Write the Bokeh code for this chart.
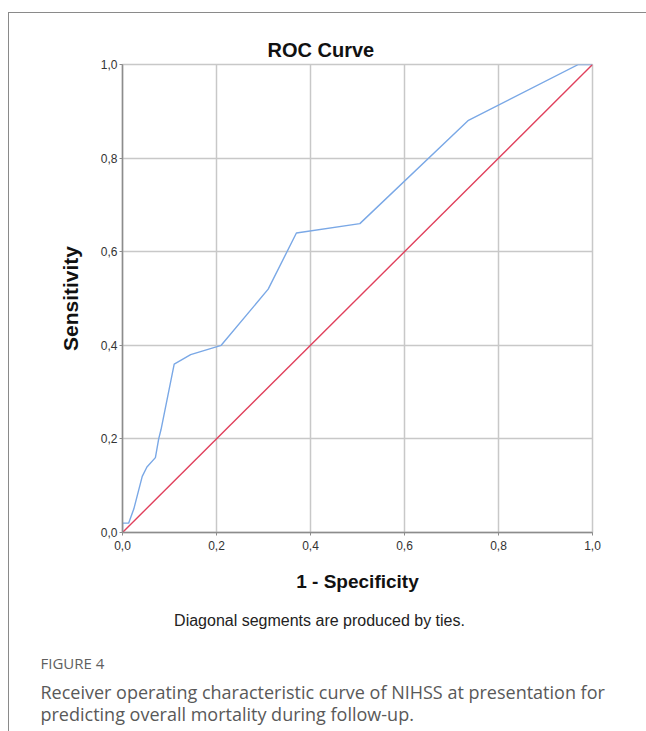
from bokeh.plotting import figure
from bokeh.models import Range1d, FixedTicker, Label, Title
from bokeh.layouts import column
from bokeh.embed import file_html
from bokeh.resources import INLINE

# ---- data ----
fpr = [0.0, 0.0, 0.013, 0.024, 0.042, 0.052, 0.070, 0.077, 0.082, 0.110,
       0.145, 0.210, 0.310, 0.370, 0.505, 0.735, 0.970, 1.0]
tpr = [0.0, 0.02, 0.02, 0.05, 0.12, 0.14, 0.16, 0.20, 0.22, 0.36,
       0.38, 0.40, 0.52, 0.64, 0.66, 0.88, 1.0, 1.0]
ref_x = [0.0, 1.0]
ref_y = [0.0, 1.0]
tick_vals = [0.0, 0.2, 0.4, 0.6, 0.8, 1.0]
tick_labels = ["0,0", "0,2", "0,4", "0,6", "0,8", "1,0"]

title_text = "ROC Curve"
x_label = "1 - Specificity"
y_label = "Sensitivity"
footnote = "Diagonal segments are produced by ties."
fig_label = "FIGURE 4"
caption_lines = ["Receiver operating characteristic curve of NIHSS at presentation for",
                 "predicting overall mortality during follow-up."]

FONT = "Liberation Sans"

# layout geometry (canvas pixels)
W = 637
H_MAIN, H_CAP = 587, 131
FL, FR, FT, FB = 113, 583, 51, 519      # frame edges on the main canvas

p = figure(width=W, height=H_MAIN, x_range=Range1d(0, 1), y_range=Range1d(0, 1),
           output_backend="svg", toolbar_location=None,
           min_border_left=FL, min_border_right=W - FR,
           min_border_top=FT, min_border_bottom=H_MAIN - FB)
p.title = None
p.add_layout(Title(text=title_text, align="left", offset=145, text_font=FONT,
                   text_font_size="20px", text_font_style="bold",
                   text_color="#111111", standoff=8), "above")

p.outline_line_color = "#c8c8c8"
p.outline_line_width = 1.5
p.background_fill_color = "white"
p.border_fill_color = "white"

for ax in (p.xaxis[0], p.yaxis[0]):
    ax.ticker = FixedTicker(ticks=tick_vals)
    ax.major_label_overrides = dict(zip(tick_vals, tick_labels))
    ax.major_label_text_font = FONT
    ax.major_label_text_font_size = "12px"
    ax.major_label_text_color = "#333333"
    ax.axis_line_color = "#8c8c8c"
    ax.axis_line_width = 1.5
    ax.major_tick_line_color = "#8c8c8c"
    ax.major_tick_out = 3
    ax.major_tick_in = 0
    ax.minor_tick_line_color = None
    ax.axis_label_text_font = FONT
    ax.axis_label_text_font_style = "bold"
    ax.axis_label_text_color = "#111111"

p.xaxis.axis_label = x_label
p.yaxis.axis_label = y_label
p.xaxis.axis_label_text_font_size = "19px"
p.yaxis.axis_label_text_font_size = "21px"
p.xaxis.major_label_standoff = 5
p.xaxis.axis_label_standoff = 18
p.yaxis.major_label_standoff = 2
p.yaxis.axis_label_standoff = 16

p.grid.ticker = FixedTicker(ticks=tick_vals)
p.grid.grid_line_color = "#c8c8c8"
p.grid.grid_line_width = 1.5

p.line(fpr, tpr, line_color="#7aa8e6", line_width=1.4)
p.line(ref_x, ref_y, line_color="#e0405c", line_width=1.4)

# ---- footnote and caption panel (coordinates = pixels inside this panel) ----
cap = figure(width=W, height=H_CAP, x_range=Range1d(0, W), y_range=Range1d(H_CAP, 0),
             output_backend="svg", toolbar_location=None,
             x_axis_type=None, y_axis_type=None, min_border=0)
cap.frame_align = False
cap.outline_line_color = None
cap.grid.visible = False
cap.border_fill_color = "white"
cap.background_fill_color = "white"

cap.add_layout(Label(x=310, y=20, text=footnote, text_align="center",
                     text_baseline="alphabetic", text_font=FONT,
                     text_font_size="16px", text_color="#222222"))
cap.add_layout(Label(x=31, y=62, text=fig_label, text_align="left",
                     text_baseline="alphabetic", text_font="Open Sans",
                     text_font_size="15px", text_color="#5f5f5f"))
for i, line in enumerate(caption_lines):
    cap.add_layout(Label(x=31, y=91 + 22 * i, text=line, text_align="left",
                         text_baseline="alphabetic", text_font="Open Sans",
                         text_font_size="18px", text_color="#595959"))

layout = column(p, cap, spacing=0,
                styles={"border-left": "1px solid #8a8a8a",
                        "border-top": "1px solid #8a8a8a",
                        "margin-left": "8px", "margin-top": "12px"})

open("out.html", "w").write(file_html(layout, INLINE))
